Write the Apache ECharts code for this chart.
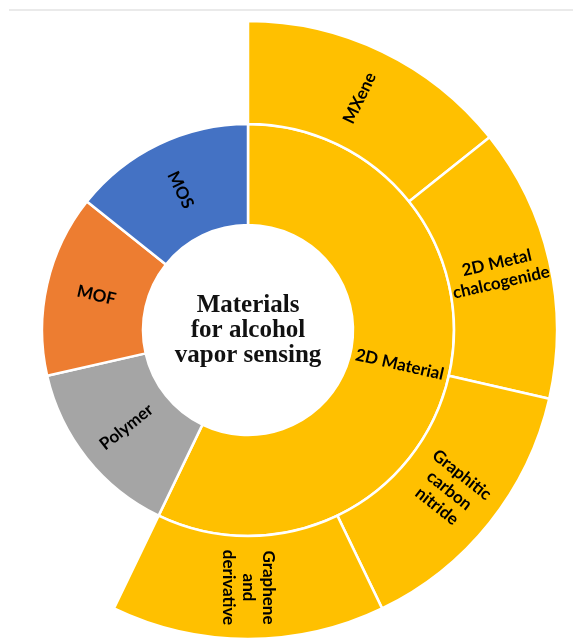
<!DOCTYPE html>
<html>
<head>
<meta charset="utf-8">
<script src="https://cdn.jsdelivr.net/npm/echarts@6/dist/echarts.min.js"></script>
<style>
html,body{margin:0;padding:0;background:#fff;}
#chart{width:573px;height:642px;}
</style>
</head>
<body>
<div id="chart"></div>
<script>
// ---- data ----
const groupNames = ['2D Material', 'Polymer', 'MOF', 'MOS'];
const groupValues = [null, 1, 1, 1]; // null -> sum of children
const subNames = ['MXene', '2D Metal\nchalcogenide', 'Graphitic\ncarbon\nnitride', 'Graphene\nand\nderivative'];
const subValues = [1, 1, 1, 1];
const centerTitle = 'Materials\nfor alcohol\nvapor sensing';

// ---- styles ----
const groupColors = ['#FFC000', '#A5A5A5', '#ED7D31', '#4472C4'];

const children = subNames.map((n, i) => ({
  name: n, value: subValues[i], itemStyle: { color: groupColors[0] }
}));
const data = groupNames.map((n, i) => {
  const node = { name: n, itemStyle: { color: groupColors[i] } };
  if (i === 0) node.children = children; else node.value = groupValues[i];
  return node;
});

const chart = echarts.init(document.getElementById('chart'), null, { renderer: 'canvas' });
const labelBase = {
  rotate: 'radial',
  color: '#000',
  fontFamily: 'Lato',
  fontWeight: 'bold',
  fontSize: 17,
  lineHeight: 20
};
chart.setOption({
  animation: false,
  graphic: [
    { type: 'line', shape: { x1: 9, y1: 10, x2: 573, y2: 10 }, style: { stroke: '#e3e3e3', lineWidth: 1.5 } },
    { type: 'text', x: 248, y: 331, style: {
        text: centerTitle, textAlign: 'center', textVerticalAlign: 'middle',
        font: 'bold 25px "Liberation Serif"', lineHeight: 25, fill: '#111'
      } }
  ],
  series: [{
    type: 'sunburst',
    center: [248, 330],
    sort: null,
    nodeClick: false,
    startAngle: 90,
    data: data,
    emphasis: { disabled: true },
    itemStyle: { borderColor: '#fff', borderWidth: 2.5 },
    label: labelBase,
    levels: [
      {},
      { r0: 105, r: 206, label: labelBase },
      { r0: 206, r: 309, label: labelBase }
    ]
  }]
});
</script>
</body>
</html>
